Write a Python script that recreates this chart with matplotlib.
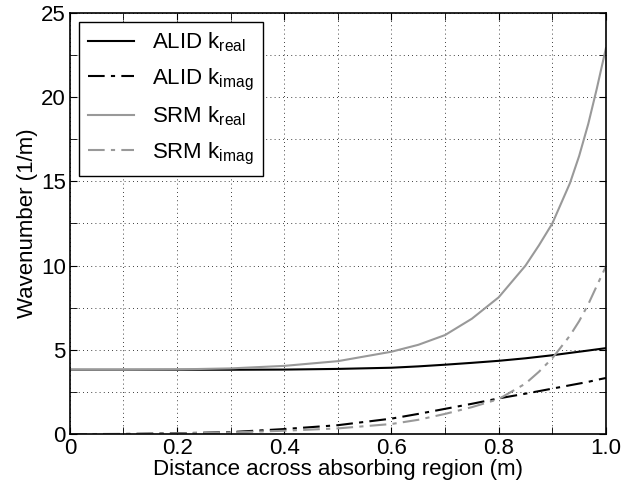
import matplotlib
matplotlib.use("Agg")
from matplotlib import pyplot as plt
from matplotlib.ticker import MultipleLocator

plt.rcParams['font.family'] = ['Liberation Sans', 'DejaVu Sans']
plt.rcParams['mathtext.fontset'] = 'custom'
plt.rcParams['mathtext.rm'] = 'Liberation Sans'
plt.rcParams['mathtext.it'] = 'Liberation Sans'

# distance across the absorbing region (m)
x = [0.0, 0.1, 0.2, 0.3, 0.4, 0.5, 0.6, 0.65, 0.7, 0.75, 0.8, 0.85, 0.875, 0.9, 0.933, 0.95, 0.967, 0.983, 1.0]

# wavenumbers
alid_real = [3.82, 3.82, 3.82, 3.82, 3.83, 3.87, 3.94, 4.02, 4.12, 4.23, 4.35, 4.5, 4.59, 4.68, 4.82, 4.89, 4.96, 5.03, 5.1]
alid_imag = [0.0, 0.01, 0.05, 0.12, 0.3, 0.53, 0.92, 1.2, 1.5, 1.8, 2.12, 2.4, 2.55, 2.7, 2.9, 3.0, 3.1, 3.22, 3.33]
srm_real = [3.82, 3.82, 3.84, 3.9, 4.05, 4.33, 4.89, 5.3, 5.88, 6.85, 8.12, 10.0, 11.2, 12.5, 14.9, 16.5, 18.4, 20.5, 22.9]
srm_imag = [0.0, 0.0, 0.04, 0.1, 0.2, 0.34, 0.6, 0.85, 1.2, 1.6, 2.08, 3.0, 3.7, 4.5, 5.85, 6.7, 7.7, 8.8, 9.95]

xticks = [0, 0.2, 0.4, 0.6, 0.8, 1.0]
xticklabels = ['0', '0.2', '0.4', '0.6', '0.8', '1.0']
yticks = [0, 5, 10, 15, 20, 25]

gray = '#999999'
dashdot = (0, (8, 3, 2, 3))
fs = 16

fig = plt.figure(figsize=(6.24, 4.95), dpi=100)
ax = fig.add_axes([0.112, 0.123, 0.859, 0.851])

ax.plot(x, alid_real, color='black', lw=1.5, label=r'ALID k$_{\mathrm{real}}$')
ax.plot(x, alid_imag, color='black', lw=1.5, linestyle=dashdot, label=r'ALID k$_{\mathrm{imag}}$')
ax.plot(x, srm_real, color=gray, lw=1.5, label=r'SRM k$_{\mathrm{real}}$')
ax.plot(x, srm_imag, color=gray, lw=1.5, linestyle=dashdot, label=r'SRM k$_{\mathrm{imag}}$')

ax.set_xlim(0, 1)
ax.set_ylim(0, 25)
ax.set_xticks(xticks)
ax.set_xticklabels(xticklabels)
ax.set_yticks(yticks)
ax.xaxis.set_minor_locator(MultipleLocator(0.1))
ax.yaxis.set_minor_locator(MultipleLocator(2.5))
ax.tick_params(which='both', direction='in', top=True, right=True, labelsize=fs)
ax.tick_params(which='major', length=5, pad=3)
ax.tick_params(which='minor', length=5)
ax.grid(True, which='both', color='black', linestyle=(0, (1, 4)), linewidth=0.6)

for s in ax.spines.values():
    s.set_linewidth(1.2)

ax.set_xlabel('Distance across absorbing region (m)', fontsize=fs, labelpad=0)
ax.set_ylabel('Wavenumber (1/m)', fontsize=fs, labelpad=2)

leg = ax.legend(loc='upper left', fontsize=fs, fancybox=False, framealpha=1,
                edgecolor='black', handlelength=2.1, borderaxespad=0.4,
                labelspacing=0.55, borderpad=0.4)
leg.get_frame().set_linewidth(1.0)

fig.savefig('out.png', dpi=100)
